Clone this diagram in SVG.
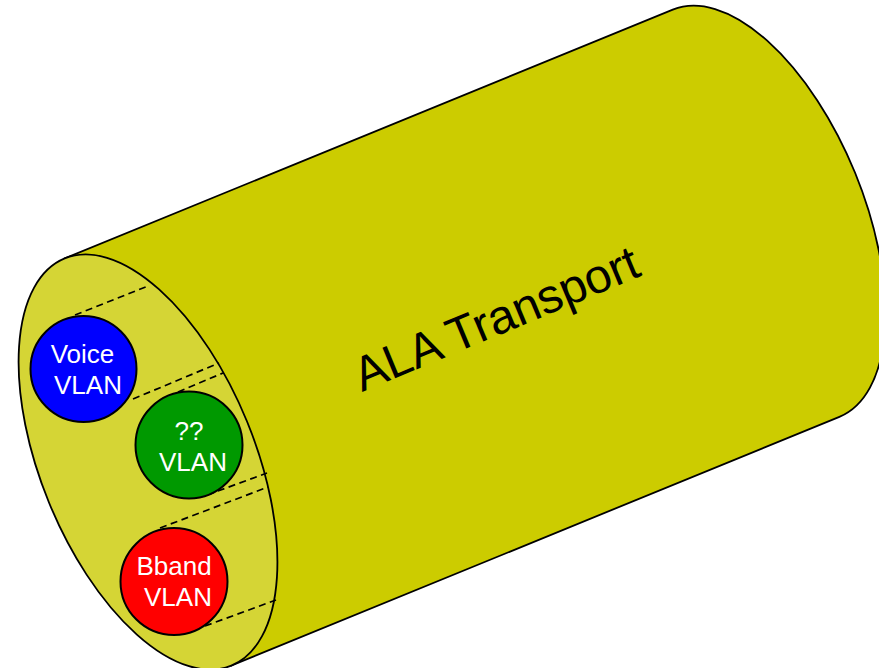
<svg xmlns="http://www.w3.org/2000/svg" width="879" height="668" viewBox="0 0 879 668">
  <style>
    .outline { stroke: #000; stroke-width: 1.8; }
    .body { fill: #CCCC00; }
    .face { fill: #D5D535; }
    .tube { fill: none; stroke: #000; stroke-width: 1.7; stroke-dasharray: 7 4.5; }
    .vlan { stroke: #000; stroke-width: 2; }
    .lbl { font-family: "Liberation Sans", Arial, sans-serif; font-size: 26px; fill: #fff; text-anchor: middle; }
    .title { font-family: "Liberation Sans", Arial, sans-serif; font-size: 48px; fill: #000; }
  </style>

  <!-- Transport cylinder, drawn in its own rotated frame -->
  <g id="transport" transform="translate(148,462) rotate(-22.25)">
    <path class="body outline" d="M0,-220 H657 A107,220 0 0 1 657,220 H0 Z"/>
    <ellipse class="face outline" cx="0" cy="0" rx="107" ry="220"/>
  </g>

  <text id="transport-label" class="title" x="362" y="392" transform="rotate(-22.6 362 392)">ALA Transport</text>

  <!-- Tube edges running back from each VLAN -->
  <g id="connectors">
    <line class="tube" x1="75" y1="315" x2="148" y2="286"/>
    <line class="tube" x1="133" y1="399" x2="219" y2="363"/>
    <line class="tube" x1="178" y1="392" x2="223" y2="373"/>
    <line class="tube" x1="207" y1="495" x2="267" y2="473"/>
    <line class="tube" x1="160" y1="528" x2="268" y2="487"/>
    <line class="tube" x1="205" y1="626" x2="276" y2="600"/>
  </g>

  <g id="voice-vlan">
    <circle class="vlan" cx="83.5" cy="369" r="53" fill="#0000FF"/>
    <text class="lbl" x="82.5" y="363">Voice</text>
    <text class="lbl" x="88" y="394">VLAN</text>
  </g>

  <g id="unknown-vlan">
    <circle class="vlan" cx="189" cy="445" r="53.5" fill="#009900"/>
    <text class="lbl" x="189" y="440">??</text>
    <text class="lbl" x="193" y="471">VLAN</text>
  </g>

  <g id="bband-vlan">
    <circle class="vlan" cx="174" cy="581.5" r="53.5" fill="#FF0000"/>
    <text class="lbl" x="174" y="575">Bband</text>
    <text class="lbl" x="178" y="606">VLAN</text>
  </g>
</svg>
